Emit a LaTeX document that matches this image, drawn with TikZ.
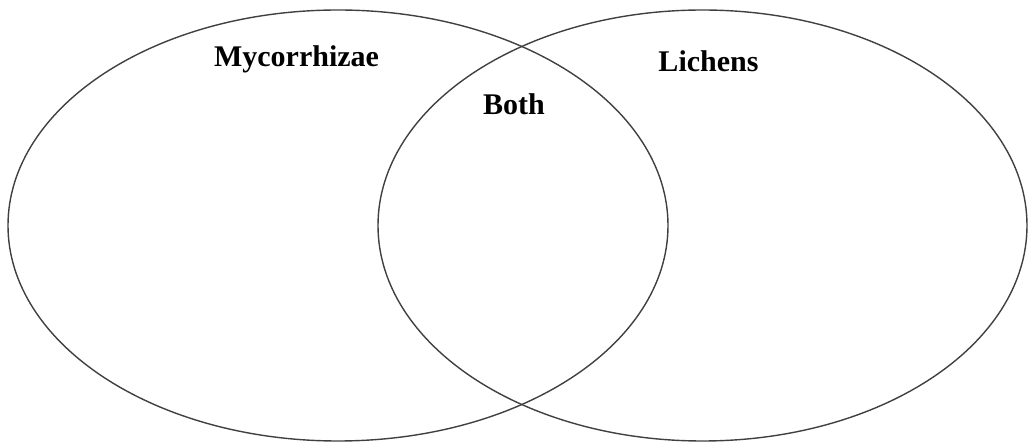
\documentclass[tikz,border=0pt]{standalone}
\usepackage{fontspec}
\setmainfont{Liberation Serif}
\begin{document}
\begin{tikzpicture}[x=1pt,y=-1pt,
  setline/.style={draw=black!75,line width=1.4pt},
  lbl/.style={font=\fontsize{30}{36}\selectfont\bfseries,anchor=base,inner sep=0pt}]
\useasboundingbox (0,0) rectangle (1029,443);
\draw[setline] (338,225.5) ellipse [x radius=330, y radius=215.5];
\draw[setline] (702.5,225.5) ellipse [x radius=324.5, y radius=215.5];
\node[lbl] (myc) at (296.5,67) {Mycorrhizae};
\node[lbl] (lic) at (708.5,71.5) {Lichens};
\node[lbl] (both) at (514,115) {Both};
\end{tikzpicture}
\end{document}
